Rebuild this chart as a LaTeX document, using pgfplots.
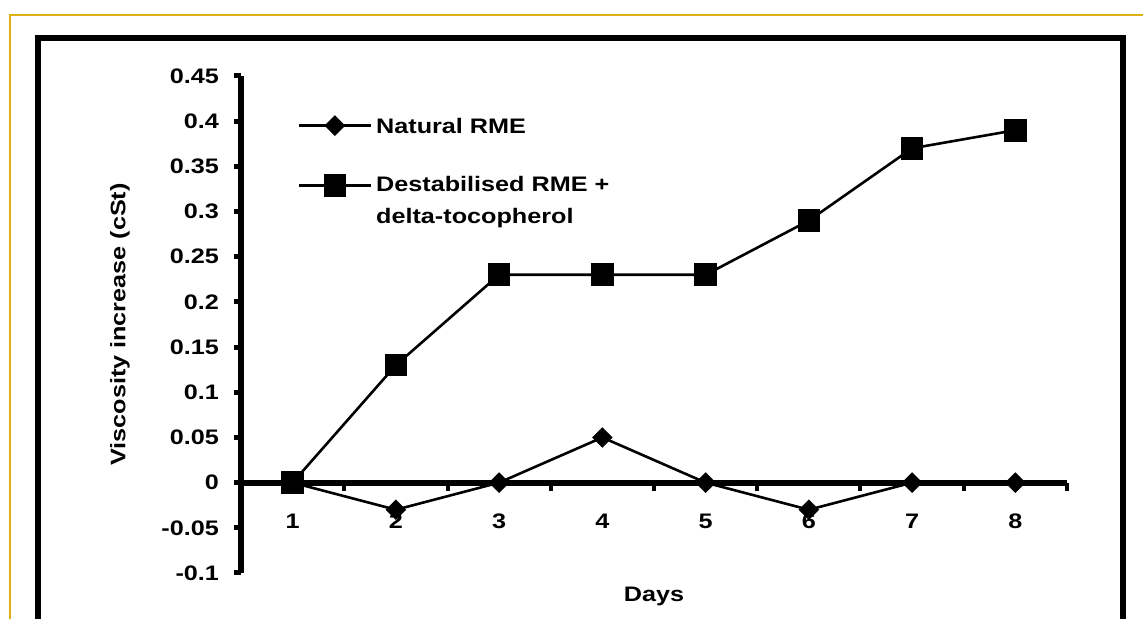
\documentclass[border=0pt]{standalone}
\usepackage{fontspec}
\setmainfont{Liberation Sans}[FakeStretch=1.2]
\usepackage{pgfplots}
\pgfplotsset{compat=1.18}
\definecolor{goldline}{RGB}{222,176,20}
\begin{document}
\begin{tikzpicture}[x=1pt,y=1pt]
\useasboundingbox (0,0) rectangle (571.5,309.5);
\fill[white] (0,0) rectangle (571.5,309.5);
\draw[goldline, line width=0.8pt] (5,-2) -- (5,302) -- (575,302);
\draw[black, line width=2.6pt] (19,-1) -- (19,290.5) -- (561.5,290.5) -- (561.5,-1);
\begin{axis}[
  at={(120.5pt,23pt)}, anchor=south west,
  scale only axis, width=413pt, height=248.5pt,
  xmin=0.5, xmax=8.5, ymin=-0.1, ymax=0.45,
  axis x line=middle, axis y line=left,
  axis line style={-, line width=3pt, black},
  tick align=outside,
  xtick={1,...,8},
  xticklabels={1,2,3,4,5,6,7,8},
  major x tick style={draw=none},
  minor xtick={1.5,2.5,3.5,4.5,5.5,6.5,7.5,8.5},
  minor tick length=4pt,
  every minor tick/.style={line width=2pt, black},
  ytick={-0.1,-0.05,0,0.05,0.1,0.15,0.2,0.25,0.3,0.35,0.4,0.45},
  yticklabels={-0.1,-0.05,0,0.05,0.1,0.15,0.2,0.25,0.3,0.35,0.4,0.45},
  major y tick style={line width=2.5pt, black},
  major tick length=3.5pt,
  ticklabel style={font=\fontsize{10.5}{12}\selectfont\bfseries},
  xticklabel style={yshift=-8.5pt},
  yticklabel style={xshift=-4pt},
  label style={font=\fontsize{10.5}{12}\selectfont\bfseries},
  xlabel={Days},
  xlabel style={at={(axis description cs:0.5,-0.048)}, anchor=center},
  ylabel={Viscosity increase (cSt)},
  ylabel style={at={(axis description cs:-0.1465,0.5)}, anchor=center, rotate=0},
  legend style={at={(axis description cs:0.068,0.984)}, anchor=north west,
    draw=none, fill=none, inner sep=0pt, row sep=2.7pt,
    cells={anchor=west},
    font=\fontsize{10.5}{12}\selectfont\bfseries},
  legend image code/.code={\draw[mark repeat=2, mark phase=2] plot coordinates {(0pt,0pt) (18pt,0pt) (36pt,0pt)};},
  clip=false,
]
\addplot[black, line width=1.3pt, mark=square*, mark size=3pt, mark options={rotate=45, solid}]
  coordinates {(1,0) (2,-0.03) (3,0) (4,0.05) (5,0) (6,-0.03) (7,0) (8,0)};
\addlegendentry[text height=22.4pt, text depth=14.9pt]{Natural RME}
\addplot[black, line width=1.3pt, mark=square*, mark size=5pt, mark options={solid}]
  coordinates {(1,0) (2,0.13) (3,0.23) (4,0.23) (5,0.23) (6,0.29) (7,0.37) (8,0.39)};
\addlegendentry{Destabilised RME +}
\addlegendimage{empty legend}
\addlegendentry{delta-tocopherol}
\end{axis}
\end{tikzpicture}
\end{document}
